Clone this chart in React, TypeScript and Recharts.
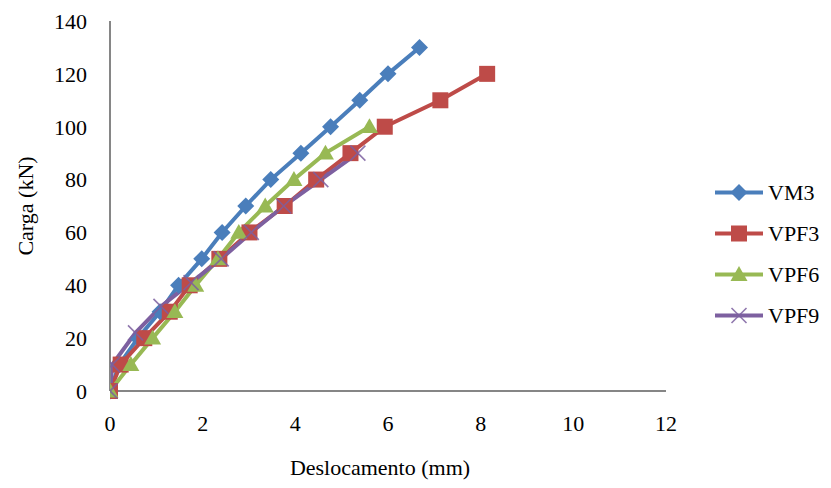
import React from 'react';
import { LineChart, Line, XAxis, YAxis, Legend } from 'recharts';

const vm3X = [0, 0.2, 0.6, 1.08, 1.48, 1.98, 2.42, 2.93, 3.47, 4.12, 4.76, 5.39, 6.0, 6.68];
const vm3Y = [0, 10, 20, 30, 40, 50, 60, 70, 80, 90, 100, 110, 120, 130];
const vpf3X = [0, 0.23, 0.74, 1.29, 1.72, 2.36, 3.01, 3.77, 4.45, 5.19, 5.93, 7.13, 8.14];
const vpf3Y = [0, 10, 20, 30, 40, 50, 60, 70, 80, 90, 100, 110, 120];
const vpf6X = [0, 0.45, 0.92, 1.4, 1.85, 2.33, 2.78, 3.35, 3.97, 4.65, 5.6];
const vpf6Y = [0, 10, 20, 30, 40, 50, 60, 70, 80, 90, 100];
const vpf9X = [0, 0.05, 0.55, 1.1, 1.75, 2.4, 3.05, 3.75, 4.55, 5.35];
const vpf9Y = [0, 10, 22, 32, 41, 50, 60, 70, 80, 90];

const xTicks = [0, 2, 4, 6, 8, 10, 12];
const yTicks = [0, 20, 40, 60, 80, 100, 120, 140];

const seriesNames = ['VM3', 'VPF3', 'VPF6', 'VPF9'];
const colors = ['#4A7EBB', '#BE4B48', '#98B954', '#7D60A0'];
const markers = ['diamond', 'square', 'triangle', 'cross'];

const toPoints = (xs: number[], ys: number[]) => xs.map((x, i) => ({ x, y: ys[i] }));
const seriesData = [toPoints(vm3X, vm3Y), toPoints(vpf3X, vpf3Y), toPoints(vpf6X, vpf6Y), toPoints(vpf9X, vpf9Y)];

const FONT = '"Liberation Serif", "Times New Roman", serif';

function Marker({ type, cx, cy, color }: { type: string; cx: number; cy: number; color: string }) {
  if (cx == null || cy == null) return null;
  if (type === 'diamond') {
    const s = 8.5;
    return <polygon points={`${cx},${cy - s} ${cx + s},${cy} ${cx},${cy + s} ${cx - s},${cy}`} fill={color} />;
  }
  if (type === 'square') {
    const s = 8;
    return <rect x={cx - s} y={cy - s} width={2 * s} height={2 * s} fill={color} />;
  }
  if (type === 'triangle') {
    const s = 8.5;
    return <polygon points={`${cx},${cy - s} ${cx + s},${cy + s * 0.75} ${cx - s},${cy + s * 0.75}`} fill={color} />;
  }
  const s = 7.5;
  return (
    <g stroke={color} strokeWidth={1.6} opacity={0.85}>
      <line x1={cx - s} y1={cy - s} x2={cx + s} y2={cy + s} />
      <line x1={cx - s} y1={cy + s} x2={cx + s} y2={cy - s} />
    </g>
  );
}

const makeDot = (idx: number) => (props: any) => (
  <Marker key={`${idx}-${props.index}`} type={markers[idx]} cx={props.cx} cy={props.cy} color={colors[idx]} />
);

function LegendContent() {
  return (
    <div style={{ fontFamily: FONT }}>
      {seriesNames.map((name, i) => (
        <svg key={name} width={116} height={41} style={{ display: 'block' }}>
          <line x1={0} y1={20.5} x2={48} y2={20.5} stroke={colors[i]} strokeWidth={4} />
          <Marker type={markers[i]} cx={24} cy={20.5} color={colors[i]} />
          <text x={53} y={20.5} dy="0.35em" fontSize={22} fontFamily={FONT} fill="#000">
            {name}
          </text>
        </svg>
      ))}
    </div>
  );
}

export default function App() {
  return (
    <div style={{ position: 'absolute', left: 0, top: 0, width: 831, height: 488, background: '#fff' }}>
      <LineChart width={831} height={488} margin={{ top: 21, right: 165, left: 0, bottom: 0 }}>
        <XAxis
          type="number"
          dataKey="x"
          domain={[0, 12]}
          ticks={xTicks}
          allowDataOverflow
          height={97}
          tickLine={false}
          tickSize={0}
          tickMargin={24}
          axisLine={{ stroke: '#868686', strokeWidth: 2 }}
          tick={{ fill: '#000', fontSize: 22, fontFamily: FONT }}
          label={{
            content: (p: any) => {
              const vb = p.viewBox;
              return (
                <text x={vb.x + vb.width / 2 - 8} y={vb.y + 84} textAnchor="middle" fontSize={22} fontFamily={FONT} fill="#000">
                  Deslocamento (mm)
                </text>
              );
            },
          }}
        />
        <YAxis
          type="number"
          dataKey="y"
          domain={[0, 140]}
          ticks={yTicks}
          width={110}
          tickLine={false}
          tickSize={0}
          tickMargin={23}
          axisLine={{ stroke: '#868686', strokeWidth: 2 }}
          tick={{ fill: '#000', fontSize: 22, fontFamily: FONT }}
          label={{
            content: (p: any) => {
              const vb = p.viewBox;
              const cx = vb.x + 25;
              const cy = vb.y + vb.height / 2;
              return (
                <text x={cx} y={cy} dy="0.35em" textAnchor="middle" transform={`rotate(-90 ${cx} ${cy})`} fontSize={22} fontFamily={FONT} fill="#000">
                  Carga (kN)
                </text>
              );
            },
          }}
        />
        <Legend
          layout="vertical"
          align="center"
          verticalAlign="middle"
          content={<LegendContent />}
          wrapperStyle={{ left: 715, top: 172, width: 116, margin: 0 }}
        />
        {seriesData.map((d, i) => (
          <Line
            key={seriesNames[i]}
            name={seriesNames[i]}
            data={d}
            dataKey="y"
            type="linear"
            stroke={colors[i]}
            strokeWidth={4}
            dot={makeDot(i)}
            activeDot={false}
            isAnimationActive={false}
          />
        ))}
      </LineChart>
    </div>
  );
}
